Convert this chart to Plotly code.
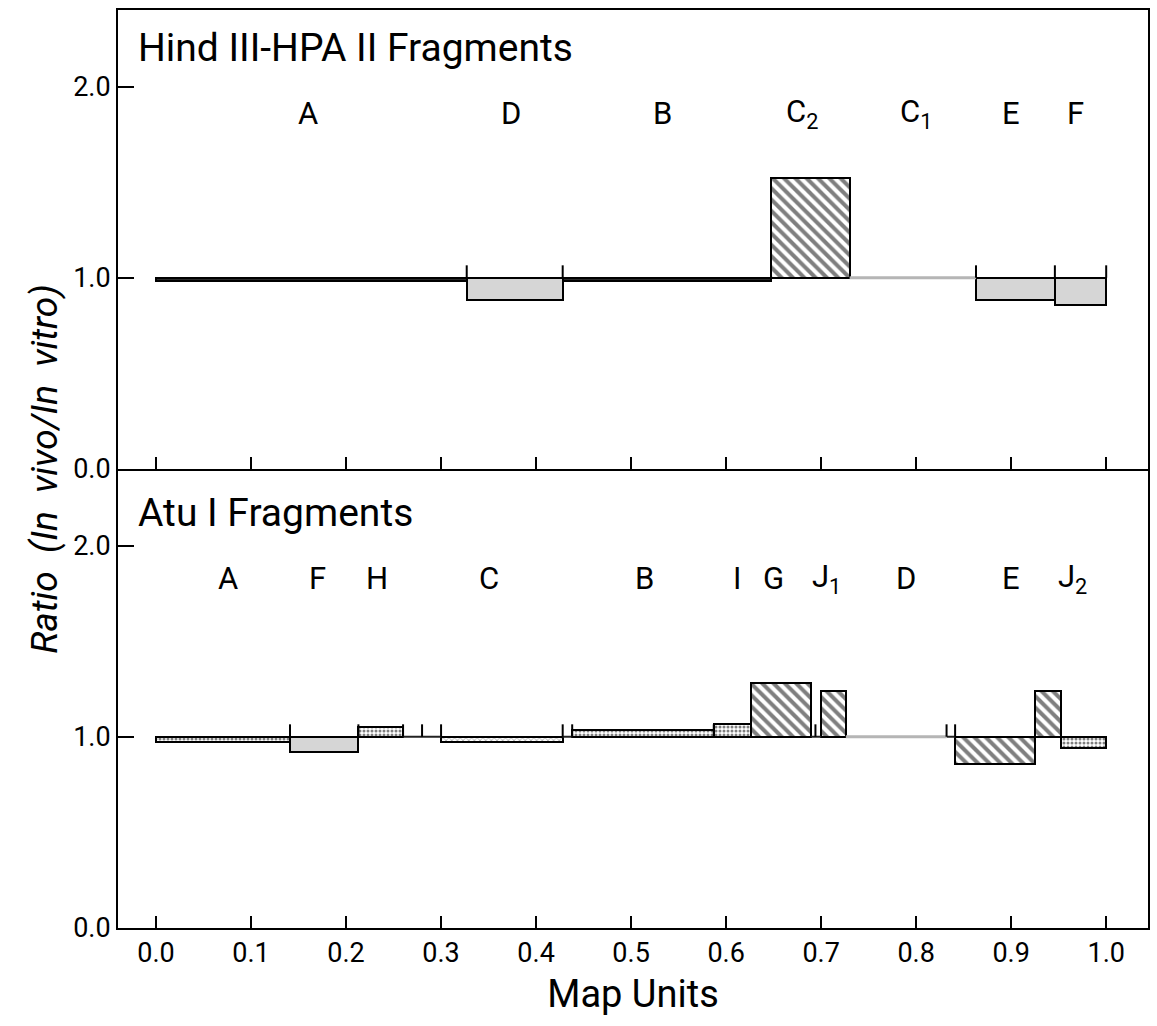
import plotly.graph_objects as go
from plotly.subplots import make_subplots

# ---------------- data ----------------
hind_start = [0.0, 0.327, 0.428, 0.647, 0.730, 0.863, 0.946]
hind_end = [0.327, 0.428, 0.647, 0.730, 0.863, 0.946, 1.0]
hind_ratio = [0.985, 0.885, 0.985, 1.52, 1.0, 0.885, 0.86]
hind_style = ["dark", "gray", "dark", "hatch", "faint", "gray", "gray"]
hind_frag = ["A", "D", "B", "C<sub>2</sub>", "C<sub>1</sub>", "E", "F"]
hind_label_x = [0.16, 0.374, 0.533, 0.68, 0.80, 0.90, 0.968]
hind_marks = [0.327, 0.428, 0.863, 0.946, 1.0]

atu_start = [0.0, 0.141, 0.213, 0.26, 0.30, 0.428, 0.438, 0.587, 0.626, 0.689,
             0.70, 0.726, 0.832, 0.841, 0.925, 0.952]
atu_end = [0.141, 0.213, 0.26, 0.30, 0.428, 0.438, 0.587, 0.626, 0.689, 0.70,
           0.726, 0.832, 0.841, 0.925, 0.952, 1.0]
atu_ratio = [0.97, 0.92, 1.05, 1.0, 0.97, 1.0, 1.035, 1.065, 1.28, 1.0,
             1.24, 1.0, 1.0, 0.86, 1.24, 0.94]
atu_style = ["dots", "gray", "dots", "line", "wavy", "line", "dots", "dots", "hatch", "line",
             "hatch", "faint", "line", "hatch", "hatch", "dots"]
atu_frag = ["A", "F", "H", "C", "B", "I", "G", "J<sub>1</sub>", "D", "E", "J<sub>2</sub>"]
atu_label_x = [0.076, 0.17, 0.233, 0.35, 0.514, 0.611, 0.65, 0.706, 0.789, 0.90, 0.965]
atu_marks = [0.141, 0.213, 0.26, 0.28, 0.30, 0.428, 0.438, 0.587, 0.694, 0.832, 0.841]

x_ticks = [0.0, 0.1, 0.2, 0.3, 0.4, 0.5, 0.6, 0.7, 0.8, 0.9, 1.0]
x_ticktext = ["0.0", "0.1", "0.2", "0.3", "0.4", "0.5", "0.6", "0.7", "0.8", "0.9", "1.0"]
y_ticks = [0.0, 1.0, 2.0]
y_ticktext = ["0.0", "1.0", "2.0"]

FONT = "Roboto"

STYLES = {
    "dark": dict(color="#2a2a2a", pattern=dict(shape="")),
    "gray": dict(color="#d6d6d6", pattern=dict(shape="")),
    "hatch": dict(color="white", pattern=dict(shape="\\", fgcolor="black", bgcolor="white",
                                              size=8, solidity=0.5)),
    "dots": dict(color="white", pattern=dict(shape=".", fgcolor="black", bgcolor="white",
                                             size=4, solidity=0.45)),
    "wavy": dict(color="white", pattern=dict(shape="x", fgcolor="#333", bgcolor="white",
                                             size=4, solidity=0.3)),
}

fig = make_subplots(rows=2, cols=1, shared_xaxes=True, vertical_spacing=0)


def add_panel(row, starts, ends, ratios, styles, marks):
    for st in ["dark", "gray", "hatch", "dots", "wavy"]:
        xs, ws, bs, hs = [], [], [], []
        for s, e, r, k in zip(starts, ends, ratios, styles):
            if k != st:
                continue
            xs.append((s + e) / 2)
            ws.append(e - s)
            bs.append(min(r, 1.0))
            hs.append(abs(r - 1.0))
        if not xs:
            continue
        sty = STYLES[st]
        fig.add_trace(go.Bar(x=xs, y=hs, base=bs, width=ws,
                             marker=dict(color=sty["color"], pattern=sty["pattern"],
                                         line=dict(color="black", width=2)),
                             showlegend=False, hoverinfo="skip"), row=row, col=1)
    # baseline lines (ratio exactly 1)
    for st, col, w in [("line", "#222", 2), ("faint", "#b5b5b5", 3)]:
        lx, ly = [], []
        for s, e, r, k in zip(starts, ends, ratios, styles):
            if k == st:
                lx += [s, e, None]
                ly += [r, r, None]
        if lx:
            fig.add_trace(go.Scatter(x=lx, y=ly, mode="lines",
                                     line=dict(color=col, width=w),
                                     showlegend=False, hoverinfo="skip"), row=row, col=1)
    # boundary marks
    mx, my = [], []
    for m in marks:
        mx += [m, m, None]
        my += [1.0, 1.065, None]
    fig.add_trace(go.Scatter(x=mx, y=my, mode="lines", line=dict(color="black", width=2),
                             showlegend=False, hoverinfo="skip"), row=row, col=1)


add_panel(1, hind_start, hind_end, hind_ratio, hind_style, hind_marks)
add_panel(2, atu_start, atu_end, atu_ratio, atu_style, atu_marks)

# fragment letters
for lab, lx in zip(hind_frag, hind_label_x):
    fig.add_annotation(x=lx, y=1.86, xref="x", yref="y", text=lab, showarrow=False,
                       font=dict(family=FONT, size=31, color="black"))
for lab, lx in zip(atu_frag, atu_label_x):
    fig.add_annotation(x=lx, y=1.83, xref="x2", yref="y2", text=lab, showarrow=False,
                       font=dict(family=FONT, size=31, color="black"))

fig.add_annotation(x=-0.021, y=2.2, xref="x", yref="y", xanchor="left", text="Hind III-HPA II Fragments",
                   showarrow=False, font=dict(family=FONT, size=39, color="black"))
fig.add_annotation(x=-0.021, y=2.17, xref="x2", yref="y2", xanchor="left", text="Atu I Fragments",
                   showarrow=False, font=dict(family=FONT, size=39, color="black"))

fig.add_annotation(x=-0.072, y=0.5, xref="paper", yref="paper", textangle=-90,
                   xanchor="center", yanchor="middle",
                   text="<i>Ratio&nbsp; (In&nbsp; vivo/In&nbsp; vitro)</i>", showarrow=False,
                   font=dict(family=FONT, size=37, color="black"))

axis_common = dict(showline=True, linecolor="black", linewidth=2,
                   ticks="inside", tickcolor="black", tickwidth=2, showgrid=False, zeroline=False)

fig.update_xaxes(range=[-0.04, 1.044], tickvals=x_ticks, ticktext=x_ticktext, ticklen=12,
                 tickfont=dict(family=FONT, size=27, color="black"), **axis_common)
fig.update_xaxes(showticklabels=False, mirror=True, row=1, col=1)
fig.update_xaxes(showticklabels=True, mirror=False, row=2, col=1,
                 title=dict(text="Map Units", font=dict(family=FONT, size=38, color="black"), standoff=12))
fig.update_yaxes(range=[0, 2.4], tickvals=y_ticks, ticktext=y_ticktext, ticklen=16, mirror=True,
                 tickfont=dict(family=FONT, size=27, color="black"), **axis_common)
fig.update_layout(
    width=1157, height=1026,
    margin=dict(l=118, r=7, t=10, b=98),
    paper_bgcolor="white", plot_bgcolor="white",
    font=dict(family=FONT, size=24, color="black"),
    barmode="overlay", bargap=0,
)
fig.update_yaxes(domain=[0.5, 1.0], row=1, col=1)
fig.update_yaxes(domain=[0.0, 0.5], row=2, col=1)

fig.write_html("out.html")
